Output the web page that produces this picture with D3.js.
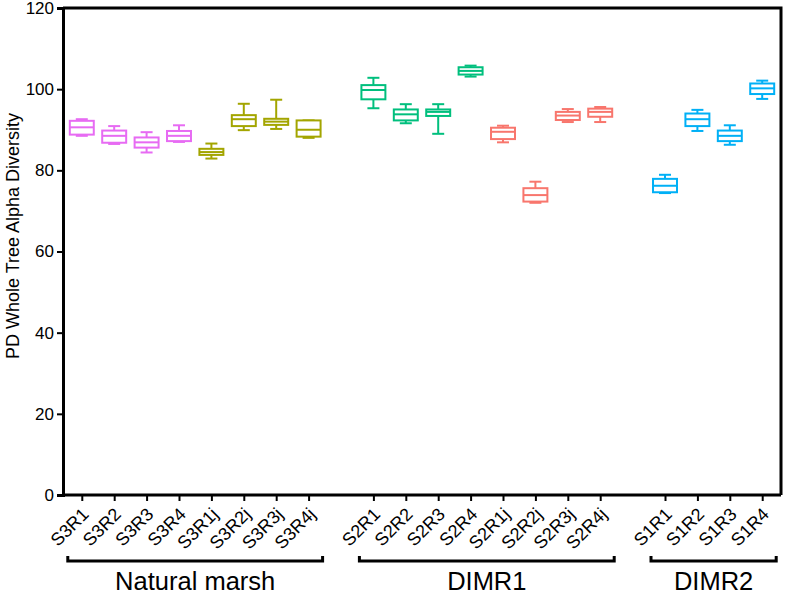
<!DOCTYPE html>
<html>
<head>
<meta charset="utf-8">
<script src="https://cdn.jsdelivr.net/npm/d3@7"></script>
<style>
  body { margin: 0; background: #fff; }
  svg { font-family: "Liberation Sans", Arial, sans-serif; }
</style>
</head>
<body>
<div id="chart"></div>
<script>
// samples, in plot order
let categories = ["S3R1","S3R2","S3R3","S3R4","S3R1j","S3R2j","S3R3j","S3R4j",
                  "S2R1","S2R2","S2R3","S2R4","S2R1j","S2R2j","S2R3j","S2R4j",
                  "S1R1","S1R2","S1R3","S1R4"];
let sampleSet = ["S3R","S3R","S3R","S3R","S3Rj","S3Rj","S3Rj","S3Rj",
                 "S2R","S2R","S2R","S2R","S2Rj","S2Rj","S2Rj","S2Rj",
                 "S1R","S1R","S1R","S1R"];
let whiskerLow  = [88.5, 86.5, 84.4, 87.0, 82.9, 89.9, 90.2, 88.0,
                   95.3, 91.6, 89.0, 103.1, 86.9, 72.0, 91.9, 91.9,
                   74.4, 89.7, 86.3, 97.6];
let q1          = [88.8, 86.8, 85.6, 87.2, 83.8, 90.9, 91.2, 88.3,
                   97.5, 92.3, 93.4, 103.6, 87.7, 72.3, 92.4, 93.2,
                   74.6, 90.9, 87.2, 98.8];
let medians     = [90.6, 88.5, 86.9, 88.5, 84.5, 92.6, 92.0, 90.0,
                   99.8, 93.8, 94.4, 104.5, 89.5, 73.9, 93.5, 94.4,
                   76.2, 92.6, 88.5, 100.2];
let q3          = [92.2, 89.8, 88.1, 89.7, 85.3, 93.6, 92.7, 92.3,
                   101.0, 95.0, 95.0, 105.4, 90.5, 75.6, 94.4, 95.2,
                   77.9, 94.0, 89.8, 101.4];
let whiskerHigh = [92.6, 90.9, 89.4, 91.1, 86.6, 96.4, 97.4, 92.3,
                   102.8, 96.3, 96.3, 105.8, 91.0, 77.2, 95.1, 95.6,
                   78.9, 94.9, 91.1, 102.1];

let groupNames = ["Natural marsh", "DIMR1", "DIMR2"];
let groupFirst = ["S3R1", "S2R1", "S1R1"];
let groupLast  = ["S3R4j", "S2R4j", "S1R4"];

let yTicks = [0, 20, 40, 60, 80, 100, 120];
let setNames  = ["S3R", "S3Rj", "S2R", "S2Rj", "S1R"];
let setColors = ["#E76BF3", "#A3A500", "#00BF7D", "#F8766D", "#00B0F6"];

let data = categories.map(function(c, i) {
  return { name: c, set: sampleSet[i], lo: whiskerLow[i], q1: q1[i],
           med: medians[i], q3: q3[i], hi: whiskerHigh[i] };
});

let W = 786, H = 594;
let margin = {top: 8, right: 5, bottom: 99, left: 63};

let svg = d3.select("#chart").append("svg")
    .attr("width", W)
    .attr("height", H);

// two blank slots separate the three groups
let slots = categories.slice(0, 8).concat(["_gap1"], categories.slice(8, 16), ["_gap2"], categories.slice(16));

let xScale = d3.scalePoint()
    .domain(slots)
    .range([margin.left, W - margin.right])
    .padding(0.58);

let yScale = d3.scaleLinear()
    .domain([0, 120])
    .range([H - margin.bottom, margin.top]);

let color = d3.scaleOrdinal().domain(setNames).range(setColors);

let step = xScale.step();
let boxW = step * 0.74;
let capW = step * 0.37;

// frame (top + right)
svg.append("path")
    .attr("d", "M" + margin.left + "," + margin.top + "H" + (W - margin.right) + "V" + (H - margin.bottom))
    .attr("fill", "none")
    .attr("stroke", "#000")
    .attr("stroke-width", 3);

// y axis
let yAxis_g = svg.append("g")
    .attr("transform", "translate(" + margin.left + ",0)")
    .call(d3.axisLeft(yScale).tickValues(yTicks).tickSize(6).tickPadding(3));
yAxis_g.select(".domain").attr("stroke-width", 3);
yAxis_g.selectAll(".tick line").attr("stroke-width", 2);
yAxis_g.selectAll(".tick text")
    .style("font-size", "17px")
    .attr("fill", "#000");

// x axis
let xAxis_g = svg.append("g")
    .attr("transform", "translate(0," + (H - margin.bottom) + ")")
    .call(d3.axisBottom(xScale).tickValues(categories).tickSize(6).tickSizeOuter(0));
xAxis_g.select(".domain").attr("stroke-width", 3)
    .attr("d", "M" + margin.left + ",0H" + (W - margin.right));
xAxis_g.selectAll(".tick line").attr("stroke-width", 2);
xAxis_g.selectAll(".tick text")
    .style("font-size", "18px")
    .attr("fill", "#000")
    .attr("text-anchor", "end")
    .attr("x", 0)
    .attr("y", 0)
    .attr("dy", "0.35em")
    .attr("transform", "translate(3,16) rotate(-45)");

// y label
svg.append("text")
    .attr("transform", "translate(19," + 236 + ") rotate(-90)")
    .attr("text-anchor", "middle")
    .style("font-size", "18px")
    .text("PD Whole Tree Alpha Diversity");

// boxes
let boxes = svg.selectAll(".box")
    .data(data)
    .enter()
    .append("g")
    .attr("class", "box")
    .attr("stroke", function(d) { return color(d.set); })
    .attr("stroke-width", 2)
    .attr("fill", "none");

boxes.append("line")
    .attr("x1", function(d) { return xScale(d.name); })
    .attr("x2", function(d) { return xScale(d.name); })
    .attr("y1", function(d) { return yScale(d.hi); })
    .attr("y2", function(d) { return yScale(d.q3); });

boxes.append("line")
    .attr("x1", function(d) { return xScale(d.name); })
    .attr("x2", function(d) { return xScale(d.name); })
    .attr("y1", function(d) { return yScale(d.q1); })
    .attr("y2", function(d) { return yScale(d.lo); });

boxes.append("line")
    .attr("x1", function(d) { return xScale(d.name) - capW / 2; })
    .attr("x2", function(d) { return xScale(d.name) + capW / 2; })
    .attr("y1", function(d) { return yScale(d.hi); })
    .attr("y2", function(d) { return yScale(d.hi); });

boxes.append("line")
    .attr("x1", function(d) { return xScale(d.name) - capW / 2; })
    .attr("x2", function(d) { return xScale(d.name) + capW / 2; })
    .attr("y1", function(d) { return yScale(d.lo); })
    .attr("y2", function(d) { return yScale(d.lo); });

boxes.append("rect")
    .attr("x", function(d) { return xScale(d.name) - boxW / 2; })
    .attr("width", boxW)
    .attr("y", function(d) { return yScale(d.q3); })
    .attr("height", function(d) { return yScale(d.q1) - yScale(d.q3); })
    .attr("fill", "#fff");

boxes.append("line")
    .attr("x1", function(d) { return xScale(d.name) - boxW / 2; })
    .attr("x2", function(d) { return xScale(d.name) + boxW / 2; })
    .attr("y1", function(d) { return yScale(d.med); })
    .attr("y2", function(d) { return yScale(d.med); });

// group brackets
let bracketY = 561;
let groups = svg.selectAll(".group")
    .data(groupNames)
    .enter()
    .append("g")
    .attr("class", "group");

groups.append("path")
    .attr("d", function(d, i) {
      let x0 = xScale(groupFirst[i]) - 14, x1 = xScale(groupLast[i]) + 14;
      return "M" + x0 + "," + (bracketY - 5) + "V" + bracketY + "H" + x1 + "V" + (bracketY - 5);
    })
    .attr("fill", "none")
    .attr("stroke", "#000")
    .attr("stroke-width", 3);

groups.append("text")
    .attr("x", function(d, i) { return (xScale(groupFirst[i]) + xScale(groupLast[i])) / 2; })
    .attr("y", 590)
    .attr("text-anchor", "middle")
    .style("font-size", "25.5px")
    .text(function(d) { return d; });
</script>
</body>
</html>
